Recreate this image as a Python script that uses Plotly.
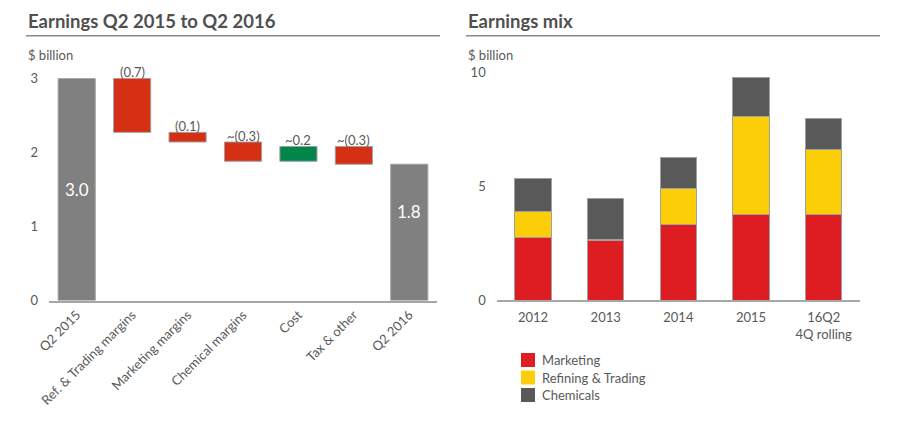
import plotly.graph_objects as go

# ---------------- data ----------------
wf_categories = ["Q2 2015", "Ref. & Trading margins", "Marketing margins",
                 "Chemical margins", "Cost", "Tax & other", "Q2 2016"]
wf_measures = ["absolute", "relative", "relative", "relative", "relative", "relative", "total"]
wf_values = [3.0, -0.73, -0.13, -0.26, 0.20, -0.24, 0]
wf_labels = ["3.0", "(0.7)", "(0.1)", "~(0.3)", "~0.2", "~(0.3)", "1.8"]

mix_categories = ["2012", "2013", "2014", "2015", "16Q2<br>4Q rolling"]
marketing = [2.75, 2.60, 3.32, 3.73, 3.73]
refining_trading = [1.15, 0.07, 1.58, 4.33, 2.88]
chemicals = [1.44, 1.79, 1.36, 1.68, 1.36]
series_names = ["Marketing", "Refining & Trading", "Chemicals"]

left_ticks = [0, 1, 2, 3]
right_ticks = [0, 5, 10]

# ---------------- style ----------------
FONT = "Lato"
TXT = "#595959"
RED_WF = "#D52F14"
GREEN_WF = "#00854A"
GRAY_TOT = "#808080"
SERIES_COLORS = ["#DD1D21", "#FBCE07", "#595959"]
OUTLINE = "#A0A0A0"
W, H = 897, 431


def px_x(p):
    return p / W


def px_y(p):
    return 1 - p / H


fig = go.Figure()

fig.add_trace(go.Waterfall(
    x=wf_categories, y=wf_values, measure=wf_measures,
    xaxis="x", yaxis="y", width=0.67,
    decreasing=dict(marker=dict(color=RED_WF, line=dict(color=OUTLINE, width=1))),
    increasing=dict(marker=dict(color=GREEN_WF, line=dict(color=OUTLINE, width=1))),
    totals=dict(marker=dict(color=GRAY_TOT, line=dict(color=OUTLINE, width=1))),
    connector=dict(visible=False), showlegend=False, hoverinfo="x+y",
))

for name, vals, col in zip(series_names, [marketing, refining_trading, chemicals], SERIES_COLORS):
    fig.add_trace(go.Bar(x=mix_categories, y=vals, name=name, xaxis="x2", yaxis="y2",
                         width=0.5, showlegend=False,
                         marker=dict(color=col, line=dict(color=OUTLINE, width=1))))

# waterfall labels computed from the data
annotations = []
running = 0.0
for cat, m, v, lab in zip(wf_categories, wf_measures, wf_values, wf_labels):
    if m == "absolute":
        running = v
        annotations.append(dict(x=cat, y=running * 0.5, xref="x", yref="y", text=lab,
                                showarrow=False, font=dict(family=FONT, size=17, color="white")))
    elif m == "total":
        annotations.append(dict(x=cat, y=running * 0.65, xref="x", yref="y", text=lab,
                                showarrow=False, font=dict(family=FONT, size=17, color="white")))
    else:
        top = max(running, running + v)
        running += v
        annotations.append(dict(x=cat, y=top, xref="x", yref="y", text=lab, yanchor="bottom",
                                yshift=-4, showarrow=False,
                                font=dict(family=FONT, size=13, color=TXT)))

# titles and subtitles
for x0, title in [(26, "Earnings Q2 2015 to Q2 2016"), (466, "Earnings mix")]:
    annotations.append(dict(x=px_x(x0), y=px_y(21), xref="paper", yref="paper", text=f"<b>{title}</b>",
                            xanchor="left", yanchor="middle", showarrow=False,
                            font=dict(family=FONT, size=18.5, color="#505050")))
    annotations.append(dict(x=px_x(x0), y=px_y(55), xref="paper", yref="paper", text="$ billion",
                            xanchor="left", yanchor="middle", showarrow=False,
                            font=dict(family=FONT, size=13, color=TXT)))

shapes = [
    dict(type="line", xref="paper", yref="paper", x0=px_x(26), x1=px_x(440), y0=px_y(35.7), y1=px_y(35.7),
         line=dict(color="#8a8a8a", width=1.5)),
    dict(type="line", xref="paper", yref="paper", x0=px_x(466), x1=px_x(880), y0=px_y(35.7), y1=px_y(35.7),
         line=dict(color="#8a8a8a", width=1.5)),
]

# manual legend
for i, (name, col) in enumerate(zip(series_names, SERIES_COLORS)):
    yc = 360 + i * 17.5
    shapes.append(dict(type="rect", xref="paper", yref="paper",
                       x0=px_x(521), x1=px_x(535), y0=px_y(yc - 7), y1=px_y(yc + 7),
                       fillcolor=col, line=dict(width=0)))
    annotations.append(dict(x=px_x(540), y=px_y(yc), xref="paper", yref="paper", text=name,
                            xanchor="left", yanchor="middle", showarrow=False,
                            font=dict(family=FONT, size=13, color=TXT)))

axis_common = dict(showgrid=False, zeroline=False, ticks="", fixedrange=True, automargin=False)

fig.update_layout(
    width=W, height=H,
    margin=dict(l=0, r=0, t=0, b=0, autoexpand=False),
    paper_bgcolor="white", plot_bgcolor="white",
    barmode="stack",
    showlegend=False,
    font=dict(family=FONT, size=13, color=TXT),
    xaxis=dict(domain=[px_x(49), px_x(437)], range=[-0.5, 6.5], anchor="y",
               showline=True, linecolor="#A6A6A6", linewidth=1.5, tickangle=-45,
               tickfont=dict(family=FONT, size=13, color=TXT), **axis_common),
    yaxis=dict(domain=[px_y(300.5), px_y(78.3)], range=[0, 3], anchor="x",
               tickvals=left_ticks, showline=False, ticklabelstandoff=10,
               tickfont=dict(family=FONT, size=13, color=TXT), **axis_common),
    xaxis2=dict(domain=[px_x(496.7), px_x(860)], range=[-0.5, 4.5], anchor="y2",
                showline=True, linecolor="#A6A6A6", linewidth=1.5, ticklabelstandoff=5,
                tickfont=dict(family=FONT, size=13, color=TXT), **axis_common),
    yaxis2=dict(domain=[px_y(300), px_y(72)], range=[0, 10], anchor="x2",
                tickvals=right_ticks, showline=False, ticklabelstandoff=10,
                tickfont=dict(family=FONT, size=13, color=TXT), **axis_common),
    annotations=annotations,
    shapes=shapes,
)

fig.write_html("out.html", config={"displayModeBar": False},
               post_script="document.body.style.margin='0';")
